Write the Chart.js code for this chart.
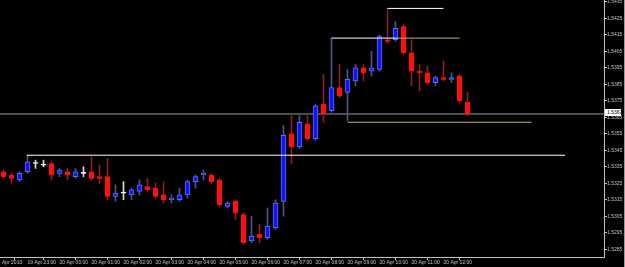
<!DOCTYPE html>
<html>
<head>
<meta charset="utf-8">
<script src="https://cdn.jsdelivr.net/npm/chart.js@4.4.1/dist/chart.umd.min.js"></script>
<style>
  html, body { margin: 0; padding: 0; background: #000; }
  #wrap { width: 625px; height: 267px; position: relative; }
</style>
</head>
<body>
<div id="wrap"><canvas id="chart"></canvas></div>
<script>
// GBPUSD M15, 19 Apr 22:15 .. 20 Apr 12:30
var opens = [1.5332, 1.5330, 1.5327, 1.5332, 1.5337, 1.5336, 1.5337, 1.5331, 1.5332, 1.5329,
    1.5331, 1.5332, 1.5329, 1.5329, 1.5317, 1.5319, 1.5318, 1.5320, 1.5323, 1.5322,
    1.5318, 1.5315, 1.5315, 1.5318, 1.5326, 1.5330, 1.5330, 1.5327, 1.5311, 1.5314,
    1.5306, 1.5290, 1.5294, 1.5292, 1.5298, 1.5314, 1.5355, 1.5347, 1.5361, 1.5352,
    1.5373, 1.5369, 1.5383, 1.5380, 1.5387, 1.5395, 1.5393, 1.5394, 1.5412, 1.5412,
    1.5420, 1.5404, 1.5393, 1.5392, 1.5386, 1.5389, 1.5388, 1.5390, 1.5374];
var highs = [1.5333, 1.5331, 1.5332, 1.5342, 1.5339, 1.5339, 1.5338, 1.5334, 1.5334, 1.5334,
    1.5335, 1.5341, 1.5336, 1.5340, 1.5324, 1.5326, 1.5322, 1.5327, 1.5328, 1.5325,
    1.5326, 1.5318, 1.5322, 1.5327, 1.5330, 1.5333, 1.5331, 1.5328, 1.5314, 1.5315,
    1.5307, 1.5305, 1.5300, 1.5310, 1.5315, 1.5360, 1.5366, 1.5366, 1.5366, 1.5373,
    1.5391, 1.5413, 1.5397, 1.5394, 1.5397, 1.5397, 1.5405, 1.5415, 1.5431, 1.5423,
    1.5421, 1.5412, 1.5397, 1.5396, 1.5390, 1.5399, 1.5392, 1.5391, 1.5380];
var lows = [1.5328, 1.5325, 1.5326, 1.5331, 1.5334, 1.5335, 1.5327, 1.5329, 1.5327, 1.5328,
    1.5329, 1.5327, 1.5325, 1.5315, 1.5314, 1.5315, 1.5315, 1.5318, 1.5320, 1.5316,
    1.5313, 1.5313, 1.5314, 1.5316, 1.5322, 1.5327, 1.5325, 1.5311, 1.5310, 1.5303,
    1.5288, 1.5289, 1.5289, 1.5291, 1.5297, 1.5305, 1.5337, 1.5346, 1.5351, 1.5351,
    1.5362, 1.5368, 1.5377, 1.5363, 1.5384, 1.5387, 1.5390, 1.5393, 1.5410, 1.5411,
    1.5403, 1.5384, 1.5381, 1.5385, 1.5384, 1.5387, 1.5386, 1.5374, 1.5366];
var closes = [1.5329, 1.5328, 1.5331, 1.5338, 1.5337, 1.5336, 1.5330, 1.5333, 1.5330, 1.5332,
    1.5331, 1.5328, 1.5328, 1.5317, 1.5319, 1.5319, 1.5321, 1.5324, 1.5321, 1.5317,
    1.5315, 1.5316, 1.5318, 1.5326, 1.5329, 1.5331, 1.5326, 1.5312, 1.5313, 1.5307,
    1.5289, 1.5293, 1.5292, 1.5299, 1.5313, 1.5354, 1.5347, 1.5362, 1.5352, 1.5372,
    1.5367, 1.5383, 1.5378, 1.5388, 1.5395, 1.5392, 1.5395, 1.5414, 1.5411, 1.5419,
    1.5404, 1.5393, 1.5392, 1.5386, 1.5389, 1.5388, 1.5389, 1.5375, 1.5367];

// hourly time labels (first one is candle 3)
var hourLabels = ['19 Apr 23:00', '20 Apr 00:00', '20 Apr 01:00', '20 Apr 02:00', '20 Apr 03:00',
    '20 Apr 04:00', '20 Apr 05:00', '20 Apr 06:00', '20 Apr 07:00', '20 Apr 08:00',
    '20 Apr 09:00', '20 Apr 10:00', '20 Apr 11:00', '20 Apr 12:00'];
var priceTicks = [1.5285, 1.5295, 1.5305, 1.5315, 1.5325, 1.5335, 1.5345, 1.5355, 1.5365,
    1.5375, 1.5385, 1.5395, 1.5405, 1.5415, 1.5425, 1.5435];

// drawn trend lines: price level, start bar, end bar
var lineLevels = [1.5342, 1.5413, 1.5413, 1.5431, 1.5362];
var lineFrom = [2.9, 41, 49.2, 48, 43];
var lineTo = [70.2, 49.2, 57, 55, 66];
var lineColors = ['#ffffff', '#ffffff', '#b8b47a', '#ffffff', '#b8b47a'];

var lastPrice = closes[closes.length - 1];
var xMin = -0.4375, xMax = 75.0625;
var axisCol = '#c0c0c0';
var fnt = { family: 'Liberation Sans', size: 5 };

var bodies = [], wicks = [], bodyFill = [], bodyBorder = [], wickCol = [];
for (var i = 0; i < opens.length; i++) {
    bodies.push({ x: i, y: [opens[i], closes[i]] });
    wicks.push({ x: i, y: [lows[i], highs[i]] });
    if (closes[i] > opens[i]) {
        bodyFill.push('#1414f0'); bodyBorder.push('#5a6cff'); wickCol.push('#48587e');
    } else if (closes[i] < opens[i]) {
        bodyFill.push('#ff1010'); bodyBorder.push('#ff1010'); wickCol.push('#8a2222');
    } else {
        bodyFill.push('#ffffff'); bodyBorder.push('#ffffff'); wickCol.push('#d8d8d8');
    }
}

var datasets = [{
    type: 'bar', data: bodies, order: 1, grouped: false,
    backgroundColor: bodyFill, borderColor: bodyBorder, borderWidth: 1,
    barThickness: 5, minBarLength: 1, borderSkipped: false
}, {
    type: 'bar', data: wicks, order: 2, grouped: false,
    backgroundColor: wickCol, borderWidth: 0, barThickness: 1, minBarLength: 1
}, {
    type: 'line', order: 3, borderColor: '#9a9a9a', borderWidth: 1, pointRadius: 0,
    data: [{ x: xMin, y: lastPrice }, { x: xMax, y: lastPrice }]
}];
lineLevels.forEach(function (lv, k) {
    datasets.push({
        type: 'line', order: 0, borderColor: lineColors[k], borderWidth: 1, pointRadius: 0,
        data: [{ x: lineFrom[k], y: lv }, { x: lineTo[k], y: lv }]
    });
});

var priceBox = {
    id: 'priceBox',
    afterDraw: function (chart) {
        var ctx = chart.ctx;
        var py = Math.round(chart.scales.y.getPixelForValue(lastPrice));
        ctx.save();
        ctx.fillStyle = '#ffffff';
        ctx.fillRect(605, py - 5, 16, 7);
        ctx.fillStyle = '#000000';
        ctx.font = '5px "Liberation Sans"';
        ctx.textBaseline = 'middle';
        ctx.fillText(lastPrice.toFixed(4), 607, py - 1.5);
        ctx.fillStyle = '#9a9a9a';
        ctx.fillRect(624, 0, 1, 267);
        ctx.restore();
    }
};

new Chart(document.getElementById('chart'), {
    type: 'bar',
    data: { datasets: datasets },
    options: {
        responsive: true,
        maintainAspectRatio: false,
        animation: false,
        layout: { padding: 0 },
        plugins: { legend: { display: false }, tooltip: { enabled: false } },
        scales: {
            x: {
                type: 'linear', min: xMin, max: xMax, offset: false,
                grid: { drawOnChartArea: false, tickLength: 3,
                    tickColor: function (c) { return c.index === 0 ? 'rgba(0,0,0,0)' : axisCol; } },
                border: { color: axisCol },
                ticks: {
                    align: 'start', padding: 0, autoSkip: false, maxRotation: 0,
                    color: axisCol, font: fnt,
                    callback: function (v) {
                        if (v < 0) return 'Apr 2010';
                        return hourLabels[(v - 3) / 4];
                    }
                },
                afterBuildTicks: function (s) {
                    var t = [{ value: -0.2 }];
                    hourLabels.forEach(function (h, k) { t.push({ value: 3 + 4 * k }); });
                    s.ticks = t;
                },
                afterFit: function (s) {
                    s.height = 10; s.paddingLeft = 0; s.paddingRight = 0;
                }
            },
            y: {
                position: 'right', min: 1.52803, max: 1.54361,
                grid: { drawOnChartArea: false, tickLength: 3, tickColor: axisCol },
                border: { color: axisCol },
                ticks: {
                    padding: 0, color: axisCol, font: fnt, autoSkip: false,
                    callback: function (v) { return v.toFixed(4); }
                },
                afterBuildTicks: function (s) {
                    s.ticks = priceTicks.map(function (p) { return { value: p }; });
                },
                afterFit: function (s) {
                    s.width = 21; s.paddingTop = 0; s.paddingBottom = 0;
                }
            }
        }
    },
    plugins: [priceBox]
});
</script>
</body>
</html>
